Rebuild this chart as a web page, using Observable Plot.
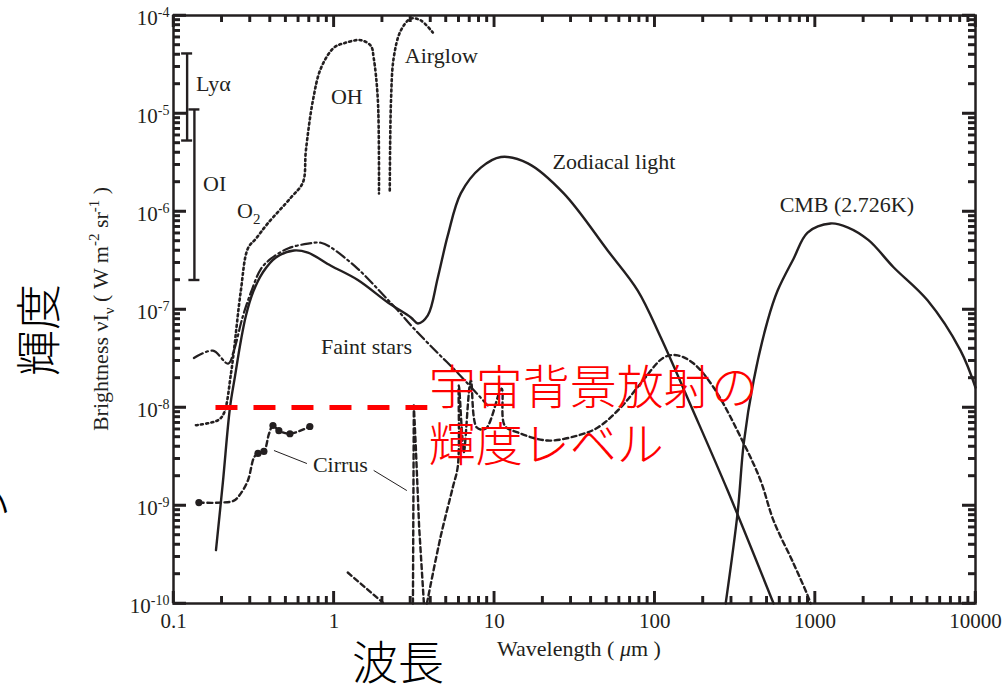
<!DOCTYPE html>
<html>
<head>
<meta charset="utf-8">
<script src="https://cdn.jsdelivr.net/npm/d3@7"></script>
<script src="https://cdn.jsdelivr.net/npm/@observablehq/plot@0.6"></script>
<style>
  html, body { margin: 0; padding: 0; background: #fff; overflow: hidden; }
  #chart { width: 1005px; height: 685px; overflow: hidden; }
  #chart svg { display: block; }
</style>
</head>
<body>
<div id="chart"></div>
<script>
// Night-sky and cosmic background brightness, wavelength in µm, νIν in W m^-2 sr^-1

// Zodiacal light (solid): scattered sunlight + thermal emission
const zodiacalWl = [0.184, 0.203, 0.225, 0.242, 0.263, 0.283, 0.313, 0.361, 0.435, 0.564, 0.689, 0.958, 1.41, 2.17, 3.02, 3.34, 3.85, 4.44, 5.13, 6.18, 8.24, 11.0, 16.2, 27.1, 50.9, 78.4, 109, 170, 285, 551];
const zodiacalB  = [3.5e-10, 1.7e-9, 1.0e-8, 2.1e-8, 4.8e-8, 8.7e-8, 1.5e-7, 2.4e-7, 3.4e-7, 4.0e-7, 3.8e-7, 2.8e-7, 2.0e-7, 1.18e-7, 8.3e-8, 7.2e-8, 8.7e-8, 2.1e-7, 5.7e-7, 1.53e-6, 2.8e-6, 3.6e-6, 3.1e-6, 1.53e-6, 4.0e-7, 1.56e-7, 5.2e-8, 1.0e-8, 1.42e-9, 1.0e-10];

// Integrated faint stars (dash-dot)
const starsWl = [0.134, 0.176, 0.219, 0.238, 0.263, 0.275, 0.304, 0.351, 0.405, 0.517, 0.689, 0.83, 0.958, 1.41, 1.96, 2.5, 3.15, 4.44, 6.0, 9.1];
const starsB  = [3.2e-8, 3.8e-8, 2.8e-8, 3.8e-8, 7.2e-8, 9.3e-8, 1.5e-7, 2.6e-7, 3.3e-7, 4.2e-7, 4.7e-7, 4.8e-7, 4.3e-7, 2.6e-7, 1.5e-7, 9.8e-8, 6.4e-8, 3.6e-8, 2.2e-8, 1.05e-8];

// Airglow (dotted): O2 / OH bands, split at the 2 µm gap
const airglowWl = [0.138, 0.189, 0.206, 0.228, 0.238, 0.263, 0.291, 0.327, 0.388, 0.54, 0.641, 0.669, 0.74, 0.83, 1.0, 1.15, 1.47, 1.70, 1.77, 1.88, 1.91];
const airglowB  = [6.6e-9, 7.4e-9, 8.7e-9, 2.2e-8, 3.8e-8, 1.56e-7, 4.2e-7, 5.3e-7, 7.6e-7, 1.39e-6, 1.98e-6, 4.2e-6, 1.36e-5, 2.9e-5, 4.7e-5, 5.2e-5, 5.6e-5, 4.9e-5, 3.7e-5, 1.36e-5, 1.53e-6];
const airglow2Wl = [2.23, 2.27, 2.36, 2.61, 3.02, 3.48, 4.14];
const airglow2B  = [1.64e-6, 1.36e-5, 3.7e-5, 7.0e-5, 9.3e-5, 8.9e-5, 6.7e-5];

// Cirrus, UV / optical (dashed with measured points)
const cirrusWl = [0.144, 0.198, 0.238, 0.263, 0.291, 0.318, 0.336, 0.366, 0.394, 0.417, 0.454, 0.532, 0.708];
const cirrusB  = [1.07e-9, 1.07e-9, 1.12e-9, 1.33e-9, 1.8e-9, 3.1e-9, 3.4e-9, 3.56e-9, 5.4e-9, 6.55e-9, 5.8e-9, 5.4e-9, 6.4e-9];
const cirrusPtWl = [0.144, 0.336, 0.366, 0.417, 0.454, 0.532, 0.708];
const cirrusPtB  = [1.07e-9, 3.4e-9, 3.56e-9, 6.55e-9, 5.8e-9, 5.4e-9, 6.4e-9];

// Cirrus, infrared dust emission with PAH bands (dashed)
const dustNirWl = [1.22, 2.02];
const dustNirB  = [2.07e-10, 1.02e-10];
const pahWl = [3.11, 3.15, 3.24, 3.40, 3.64];
const pahB  = [1.0e-10, 1.05e-8, 4.0e-9, 6.0e-10, 1.0e-10];
const dustWl = [3.80, 4.64, 5.51, 5.93, 6.01, 6.28, 6.46, 7.14, 7.78, 8.85, 11.1, 11.6, 14.0, 21.5, 33.1, 44.2, 61.4, 81.8, 114, 139, 175, 233, 359, 457, 551, 734, 898, 938];
const dustB  = [1.0e-10, 4.9e-10, 1.53e-9, 2.56e-9, 1.68e-8, 5.8e-9, 3.5e-9, 1.89e-8, 6.25e-9, 6.1e-9, 1.56e-8, 6.55e-9, 5.56e-9, 4.6e-9, 5.18e-9, 6.25e-9, 1.0e-8, 1.76e-8, 3.24e-8, 3.4e-8, 2.81e-8, 1.6e-8, 4.3e-9, 1.8e-9, 7.0e-10, 2.56e-10, 1.21e-10, 1.0e-10];

// Cosmic microwave background, 2.726 K (solid)
const cmbWl = [277, 329, 359, 414, 506, 584, 734, 898, 1250, 1593, 2154, 3083, 5020, 8070, 10000];
const cmbB  = [1.0e-10, 8.5e-10, 4.3e-9, 1.89e-8, 7.7e-8, 1.56e-7, 3.3e-7, 6.1e-7, 7.55e-7, 6.9e-7, 5.1e-7, 2.7e-7, 1.24e-7, 3.8e-8, 1.6e-8];

// Emission-line ranges (error bars)
const lineNames = ["Lyα", "OI"];
const lineWl    = [0.1216, 0.135];
const lineLow   = [5.3e-6, 2.0e-7];
const lineHigh  = [4.1e-5, 1.1e-5];

// Cosmic background level marker
const backgroundLevel = 1e-8;
const backgroundFrom = 0.184;
const backgroundTo = 3.85;

// Curve labels
const labelText = ["Lyα", "OI", "O_{2}", "OH", "Airglow", "Zodiacal light", "CMB (2.726K)", "Faint stars", "Cirrus"];
const labelWl   = [0.138, 0.153, 0.249, 0.958, 2.77, 23.1, 601, 0.83, 0.74];
const labelB    = [1.98e-5, 1.89e-6, 1.02e-6, 1.49e-5, 3.91e-5, 3.24e-6, 1.18e-6, 4.19e-8, 2.62e-9];

// Leader lines from the "Cirrus" label
const leaderX1 = [0.423, 1.77];
const leaderY1 = [3.64e-9, 2.28e-9];
const leaderX2 = [0.679, 2.85];
const leaderY2 = [2.68e-9, 1.42e-9];

// Axis ticks
const xMajor = [0.1, 1, 10, 100, 1000, 10000];
const xTickLabels = ["0.1", "1", "10", "100", "1000", "10000"];
const yMajor = [1e-10, 1e-9, 1e-8, 1e-7, 1e-6, 1e-5, 1e-4];
const yTickLabels = ["10^{-10}", "10^{-9}", "10^{-8}", "10^{-7}", "10^{-6}", "10^{-5}", "10^{-4}"];

// ---- layout ----
const W = 1005, H = 685;
const M = {top: 15, right: 30, bottom: 82, left: 173};
const innerW = W - M.left - M.right;
const innerH = H - M.top - M.bottom;
const ink = "#231f20";
const serif = "'Liberation Serif', 'Times New Roman', serif";
const cjk = "'Noto Sans CJK JP', 'Noto Sans CJK SC', sans-serif";

const pairs = (xs, ys, seg = 0) => xs.map((x, i) => ({x, y: ys[i], seg}));
const minorOf = (majors) => majors.slice(0, -1).flatMap(d => d3.range(2, 10).map(k => k * d));
const xMinor = minorOf(xMajor);
const yMinor = minorOf(yMajor);

const airglow = [...pairs(airglowWl, airglowB, 0), ...pairs(airglow2Wl, airglow2B, 1)];
const dust = [...pairs(dustNirWl, dustNirB, 0), ...pairs(dustWl, dustB, 2)];
const barRows = lineNames.map((name, i) => ({name, x: lineWl[i], lo: lineLow[i], hi: lineHigh[i]}));
const capRows = barRows.flatMap(d => [{x: d.x, y: d.lo}, {x: d.x, y: d.hi}]);
const capHalf = 10 ** (5.5 / (innerW / 5)); // ±5.5 px in log space
const labelRows = labelText.map((t, i) => ({t, x: labelWl[i], y: labelB[i]}));
const leaderRows = leaderX1.map((x1, i) => ({x1, y1: leaderY1[i], x2: leaderX2[i], y2: leaderY2[i]}));

const curveStyle = {stroke: ink, strokeWidth: 2.4, strokeLinejoin: "round"};
const tickStyle = {stroke: ink, strokeWidth: 2.4};

const chart = Plot.plot({
  width: W,
  height: H,
  marginTop: M.top,
  marginRight: M.right,
  marginBottom: M.bottom,
  marginLeft: M.left,
  x: {type: "log", domain: [0.1, 10000], axis: null},
  y: {type: "log", domain: [1e-10, 1e-4], axis: null},
  style: {fontFamily: serif, color: ink},
  marks: [
    // inward ticks on all four sides
    Plot.ruleX(xMajor, {x: d => d, insetTop: innerH - 12, ...tickStyle}),
    Plot.ruleX(xMajor, {x: d => d, insetBottom: innerH - 12, ...tickStyle}),
    Plot.ruleX(xMinor, {x: d => d, insetTop: innerH - 7, ...tickStyle}),
    Plot.ruleX(xMinor, {x: d => d, insetBottom: innerH - 7, ...tickStyle}),
    Plot.ruleY(yMajor, {y: d => d, insetRight: innerW - 13, ...tickStyle}),
    Plot.ruleY(yMajor, {y: d => d, insetLeft: innerW - 13, ...tickStyle}),
    Plot.ruleY(yMinor, {y: d => d, insetRight: innerW - 7, ...tickStyle}),
    Plot.ruleY(yMinor, {y: d => d, insetLeft: innerW - 7, ...tickStyle}),
    Plot.frame({stroke: ink, strokeWidth: 2.5}),

    // tick labels
    Plot.text(xMajor, {x: d => d, frameAnchor: "bottom", lineAnchor: "middle", dy: 18, text: (d, i) => xTickLabels[i], fontSize: 21, fill: ink}),
    Plot.text(yMajor, {y: d => d, frameAnchor: "left", lineAnchor: "middle", dx: -4, dy: 3, textAnchor: "end", text: (d, i) => yTickLabels[i], fontSize: 21, fill: ink}),

    // curves
    Plot.line(airglow, {x: "x", y: "y", z: "seg", curve: "catmull-rom", ...curveStyle, strokeWidth: 2.6, strokeDasharray: "2,3.2"}),
    Plot.line(pairs(starsWl, starsB), {x: "x", y: "y", curve: "catmull-rom", ...curveStyle, strokeWidth: 2.2, strokeDasharray: "10,3.5,2,3.5"}),
    Plot.line(pairs(zodiacalWl, zodiacalB), {x: "x", y: "y", curve: "catmull-rom", ...curveStyle}),
    Plot.line(pairs(cmbWl, cmbB), {x: "x", y: "y", curve: "catmull-rom", ...curveStyle}),
    Plot.line(pairs(cirrusWl, cirrusB), {x: "x", y: "y", curve: "catmull-rom", ...curveStyle, strokeDasharray: "5,3.5"}),
    Plot.dot(pairs(cirrusPtWl, cirrusPtB), {x: "x", y: "y", r: 3.6, fill: ink}),
    Plot.line(dust, {x: "x", y: "y", z: "seg", curve: "catmull-rom", ...curveStyle, strokeDasharray: "5,3.5"}),
    Plot.line(pairs(pahWl, pahB), {x: "x", y: "y", ...curveStyle, strokeDasharray: "5,3.5"}),

    // emission-line ranges
    Plot.ruleX(barRows, {x: "x", y1: "lo", y2: "hi", stroke: ink, strokeWidth: 2.4}),
    Plot.ruleY(capRows, {y: "y", x1: d => d.x / capHalf, x2: d => d.x * capHalf, stroke: ink, strokeWidth: 2.4}),

    // leader lines and labels
    Plot.link(leaderRows, {x1: "x1", y1: "y1", x2: "x2", y2: "y2", stroke: ink, strokeWidth: 1}),
    Plot.text(labelRows, {x: "x", y: "y", text: "t", textAnchor: "start", fontSize: 22, fill: ink}),

    // cosmic background brightness level
    Plot.ruleY([backgroundLevel], {y: d => d, x1: backgroundFrom, x2: backgroundTo, stroke: "#ff0000", strokeWidth: 5, strokeDasharray: "22,16"}),
    Plot.text(["宇宙背景放射の\n輝度レベル"], {x: 3.9, y: backgroundLevel, dy: 7, text: d => d, textAnchor: "start", lineHeight: 1.21, fontSize: 47, fontFamily: cjk, fontWeight: 300, fill: "#ff0000"})
  ]
});

const svg = d3.select(chart);

// Tick comb as a single path, positioned with the chart's own scales
const sx = chart.scale("x"), sy = chart.scale("y");
const xL = M.left, xR = W - M.right, yT = M.top, yB = H - M.bottom;
const tickPath = d3.path();
for (const [vals, len] of [[xMajor, 12], [xMinor, 7]]) {
  for (const v of vals) {
    const px = sx.apply(v);
    tickPath.moveTo(px, yB); tickPath.lineTo(px, yB - len);
    tickPath.moveTo(px, yT); tickPath.lineTo(px, yT + len);
  }
}
for (const [vals, len] of [[yMajor, 13], [yMinor, 7]]) {
  for (const v of vals) {
    const py = sy.apply(v);
    tickPath.moveTo(xL, py); tickPath.lineTo(xL + len, py);
    tickPath.moveTo(xR, py); tickPath.lineTo(xR - len, py);
  }
}
svg.append("path")
  .attr("d", tickPath.toString())
  .attr("fill", "none")
  .attr("stroke", ink)
  .attr("stroke-width", 2.4)
  .style("stroke", ink)
  .style("stroke-width", "2.4px");

// Turn ^{...} and _{...} into raised / lowered tspans
function richText(node, size) {
  const s = node.textContent;
  if (!/[_^]\{/.test(s)) return;
  const t = d3.select(node).text(null);
  let off = 0;
  for (const p of s.split(/([_^]\{[^}]*\})/).filter(Boolean)) {
    let target = 0, txt = p, small = false;
    if (p.startsWith("^{")) { target = -0.4 * size; txt = p.slice(2, -1); small = true; }
    else if (p.startsWith("_{")) { target = 0.28 * size; txt = p.slice(2, -1); small = true; }
    const ts = t.append("tspan").attr("dy", target - off).text(txt);
    if (small) ts.attr("font-size", Math.round(size * 0.68));
    off = target;
  }
}

svg.selectAll("text").each(function() {
  const own = this.getAttribute("font-size");
  const parent = this.parentNode && this.parentNode.getAttribute ? this.parentNode.getAttribute("font-size") : null;
  richText(this, parseFloat(own || parent || 21));
});

// Axis titles
const yTitle = svg.append("text")
  .attr("transform", "translate(108,309) rotate(-90)")
  .attr("text-anchor", "middle")
  .attr("font-family", serif).attr("font-size", 22).attr("fill", ink)
  .text("Brightness νI_{ν} ( W m^{-2} sr^{-1} )");
richText(yTitle.node(), 22);

const xTitle = svg.append("text")
  .attr("x", 579).attr("y", 656)
  .attr("text-anchor", "middle")
  .attr("font-family", serif).attr("font-size", 22).attr("fill", ink);
xTitle.append("tspan").text("Wavelength ( ");
xTitle.append("tspan").attr("font-style", "italic").text("μ");
xTitle.append("tspan").text("m )");

svg.append("text")
  .attr("x", 398).attr("y", 679)
  .attr("text-anchor", "middle")
  .attr("font-family", cjk).attr("font-size", 46).attr("font-weight", 300).attr("fill", "#000")
  .text("波長");

svg.append("text")
  .attr("transform", "translate(38,330) rotate(-90)")
  .attr("text-anchor", "middle").attr("dy", "0.38em")
  .attr("font-family", cjk).attr("font-size", 46).attr("font-weight", 300).attr("fill", "#000")
  .text("輝度");

// next rotated caption, mostly beyond the left edge
svg.append("text")
  .attr("transform", "translate(-11,498) rotate(-90)")
  .attr("text-anchor", "middle").attr("dy", "0.38em")
  .attr("font-family", cjk).attr("font-size", 46).attr("font-weight", 300).attr("fill", "#000")
  .text("シ");

document.getElementById("chart").appendChild(chart);
</script>
</body>
</html>
